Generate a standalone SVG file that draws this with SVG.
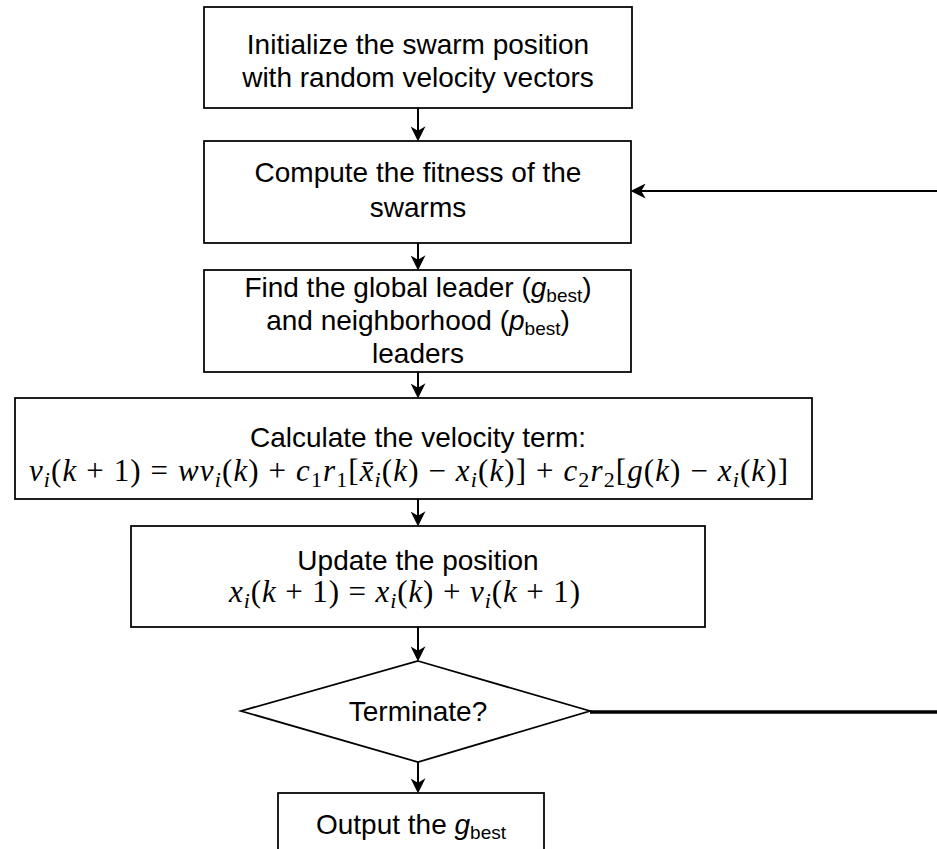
<svg xmlns="http://www.w3.org/2000/svg" width="937" height="849" viewBox="0 0 937 849">
  <style>
    .box { fill: #ffffff; stroke: #000000; stroke-width: 1.75; }
    .lbl { font-family: "Liberation Sans", Arial, sans-serif; font-size: 28px; fill: #000000; text-anchor: middle; }
    .sub { font-size: 19px; }
    .math { font-family: "Liberation Serif", "Times New Roman", serif; font-size: 31px; fill: #000000; }
    .it { font-style: italic; }
    .msub { font-size: 22px; }
    .edge { fill: none; stroke: #000000; stroke-width: 2; }
    .loop { fill: none; stroke: #000000; stroke-width: 3.5; }
  </style>
  <defs>
    <marker id="arrow" viewBox="0 0 14 14" refX="9" refY="7" markerWidth="15" markerHeight="15" markerUnits="userSpaceOnUse" orient="auto">
      <path d="M0,0 L14,7 L0,14 L4,7 Z" fill="#000000"/>
    </marker>
  </defs>

  <rect width="937" height="849" fill="#ffffff"/>

  <!-- connectors -->
  <g id="connectors">
    <line class="edge" x1="418" y1="108" x2="418" y2="136" marker-end="url(#arrow)"/>
    <line class="edge" x1="418" y1="243" x2="418" y2="265" marker-end="url(#arrow)"/>
    <line class="edge" x1="418" y1="372" x2="418" y2="393" marker-end="url(#arrow)"/>
    <line class="edge" x1="418" y1="499" x2="418" y2="521" marker-end="url(#arrow)"/>
    <line class="edge" x1="418" y1="627" x2="418" y2="656" marker-end="url(#arrow)"/>
    <line class="edge" x1="418" y1="762" x2="418" y2="788" marker-end="url(#arrow)"/>
    <!-- loop back from the decision to the fitness step -->
    <line class="loop" x1="590" y1="712" x2="937" y2="712"/>
    <line class="edge" x1="937" y1="191" x2="636" y2="191" marker-end="url(#arrow)"/>
  </g>

  <g id="init">
    <rect class="box" x="204" y="7" width="428" height="101"/>
    <text class="lbl" x="418" y="54">Initialize the swarm position</text>
    <text class="lbl" x="418" y="87">with random velocity vectors</text>
  </g>

  <g id="fitness">
    <rect class="box" x="204" y="141" width="427" height="102"/>
    <text class="lbl" x="418" y="182">Compute the fitness of the</text>
    <text class="lbl" x="418" y="217">swarms</text>
  </g>

  <g id="leaders">
    <rect class="box" x="204" y="270" width="427" height="102"/>
    <text class="lbl" x="418" y="297">Find the global leader (<tspan font-style="italic">g</tspan><tspan class="sub" dy="5">best</tspan><tspan dy="-5">)</tspan></text>
    <text class="lbl" x="418" y="330">and neighborhood (<tspan font-style="italic">p</tspan><tspan class="sub" dy="5">best</tspan><tspan dy="-5">)</tspan></text>
    <text class="lbl" x="418" y="363">leaders</text>
  </g>

  <g id="velocity">
    <rect class="box" x="15" y="398" width="797" height="101"/>
    <text class="lbl" x="418" y="447">Calculate the velocity term:</text>
    <text class="math" x="29" y="481" textLength="759" lengthAdjust="spacing"><tspan class="it">v</tspan><tspan class="it msub" dy="6">i</tspan><tspan dy="-6">(</tspan><tspan class="it">k</tspan><tspan> + 1) = </tspan><tspan class="it">wv</tspan><tspan class="it msub" dy="6">i</tspan><tspan dy="-6">(</tspan><tspan class="it">k</tspan><tspan>) + </tspan><tspan class="it">c</tspan><tspan class="msub" dy="6">1</tspan><tspan class="it" dy="-6">r</tspan><tspan class="msub" dy="6">1</tspan><tspan dy="-6">[</tspan><tspan class="it">x̄</tspan><tspan class="it msub" dy="6">i</tspan><tspan dy="-6">(</tspan><tspan class="it">k</tspan><tspan>) − </tspan><tspan class="it">x</tspan><tspan class="it msub" dy="6">i</tspan><tspan dy="-6">(</tspan><tspan class="it">k</tspan><tspan>)] + </tspan><tspan class="it">c</tspan><tspan class="msub" dy="6">2</tspan><tspan class="it" dy="-6">r</tspan><tspan class="msub" dy="6">2</tspan><tspan dy="-6">[</tspan><tspan class="it">g</tspan><tspan>(</tspan><tspan class="it">k</tspan><tspan>) − </tspan><tspan class="it">x</tspan><tspan class="it msub" dy="6">i</tspan><tspan dy="-6">(</tspan><tspan class="it">k</tspan><tspan>)]</tspan></text>
  </g>

  <g id="update">
    <rect class="box" x="131" y="526" width="574" height="101"/>
    <text class="lbl" x="418" y="570">Update the position</text>
    <text class="math" x="229" y="602" textLength="351" lengthAdjust="spacing"><tspan class="it">x</tspan><tspan class="it msub" dy="6">i</tspan><tspan dy="-6">(</tspan><tspan class="it">k</tspan><tspan> + 1) = </tspan><tspan class="it">x</tspan><tspan class="it msub" dy="6">i</tspan><tspan dy="-6">(</tspan><tspan class="it">k</tspan><tspan>) + </tspan><tspan class="it">v</tspan><tspan class="it msub" dy="6">i</tspan><tspan dy="-6">(</tspan><tspan class="it">k</tspan><tspan> + 1)</tspan></text>
  </g>

  <g id="terminate">
    <polygon class="box" points="418,661 590,711 418,762 241,711"/>
    <text class="lbl" x="418" y="721">Terminate?</text>
  </g>

  <g id="output">
    <rect class="box" x="278" y="793" width="266" height="90"/>
    <text class="lbl" x="411" y="834">Output the <tspan font-style="italic">g</tspan><tspan class="sub" dy="5">best</tspan></text>
  </g>
</svg>
